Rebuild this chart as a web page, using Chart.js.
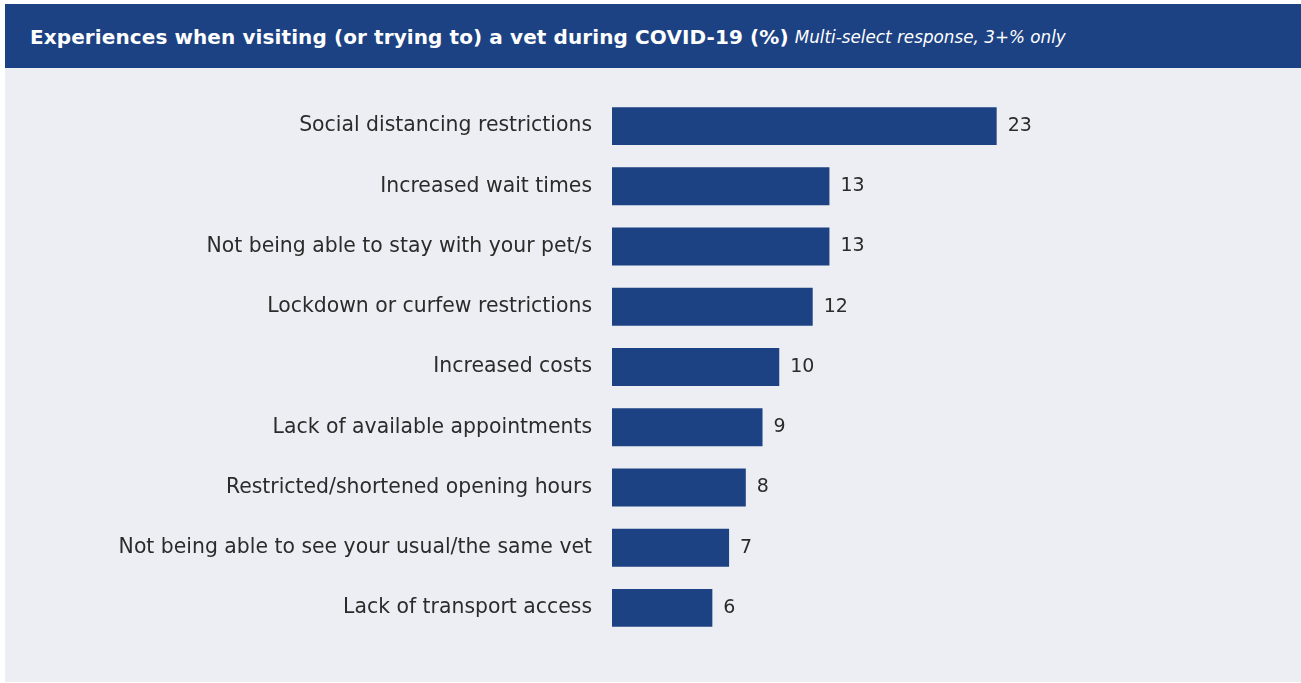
<!DOCTYPE html>
<html>
<head>
<meta charset="utf-8">
<script src="https://cdn.jsdelivr.net/npm/chart.js@4"></script>
<style>
    html, body { margin: 0; padding: 0; background: #ffffff; }
    body { width: 1301px; height: 683px; position: relative; overflow: hidden; font-family: "DejaVu Sans", sans-serif; }
    .panel { position: absolute; left: 5px; top: 4px; width: 1296px; height: 678px; background: #edeef3; }
    .header { height: 64px; background: #1c4284; color: #fff; display: flex; align-items: center; padding-left: 25px; padding-top: 2px; box-sizing: border-box; }
    .header .title { font-weight: 700; font-size: 20px; letter-spacing: 0.1px; }
    .header .sub { font-style: italic; font-size: 16.8px; margin-left: 6px; }
    .chart-wrap { position: absolute; left: 0; top: 64px; width: 1296px; height: 614px; }
</style>
</head>
<body>
<div class="panel">
    <div class="header">
        <span class="title">Experiences when visiting (or trying to) a vet during COVID-19 (%)</span>
        <span class="sub">Multi-select response, 3+% only</span>
    </div>
    <div class="chart-wrap"><canvas id="vetChart"></canvas></div>
</div>
<script>
const categories = [
    'Social distancing restrictions',
    'Increased wait times',
    'Not being able to stay with your pet/s',
    'Lockdown or curfew restrictions',
    'Increased costs',
    'Lack of available appointments',
    'Restricted/shortened opening hours',
    'Not being able to see your usual/the same vet',
    'Lack of transport access'
];
const percentages = [23, 13, 13, 12, 10, 9, 8, 7, 6];

const labelFont = '"DejaVu Sans", sans-serif';

// value labels at the end of each bar
const barValueLabels = {
    id: 'barValueLabels',
    afterDatasetsDraw(chart) {
        const ctx = chart.ctx;
        const meta = chart.getDatasetMeta(0);
        ctx.save();
        ctx.fillStyle = '#2b2b2b';
        ctx.font = '19px ' + labelFont;
        ctx.textBaseline = 'middle';
        ctx.textAlign = 'left';
        meta.data.forEach((bar, i) => {
            ctx.fillText(String(percentages[i]), bar.x + 11, bar.y);
        });
        ctx.restore();
    }
};

new Chart(document.getElementById('vetChart').getContext('2d'), {
    type: 'bar',
    data: {
        labels: categories,
        datasets: [{
            data: percentages,
            backgroundColor: '#1c4284',
            barPercentage: 0.63,
            categoryPercentage: 1.0
        }]
    },
    options: {
        indexAxis: 'y',
        responsive: true,
        maintainAspectRatio: false,
        animation: false,
        layout: { padding: { top: 28, bottom: 44, right: 20, left: 0 } },
        plugins: {
            legend: { display: false },
            tooltip: { enabled: false }
        },
        scales: {
            x: {
                min: 0,
                max: 40,
                display: false
            },
            y: {
                // hidden tick marks still push the labels 20px off the bars
                grid: { display: false, drawTicks: true, tickLength: 20 },
                border: { display: false },
                afterFit(scale) { scale.width = 607; },
                ticks: {
                    padding: 0,
                    color: '#2b2b2b',
                    font: { family: labelFont, size: 20.4 }
                }
            }
        }
    },
    plugins: [barValueLabels]
});
</script>
</body>
</html>
